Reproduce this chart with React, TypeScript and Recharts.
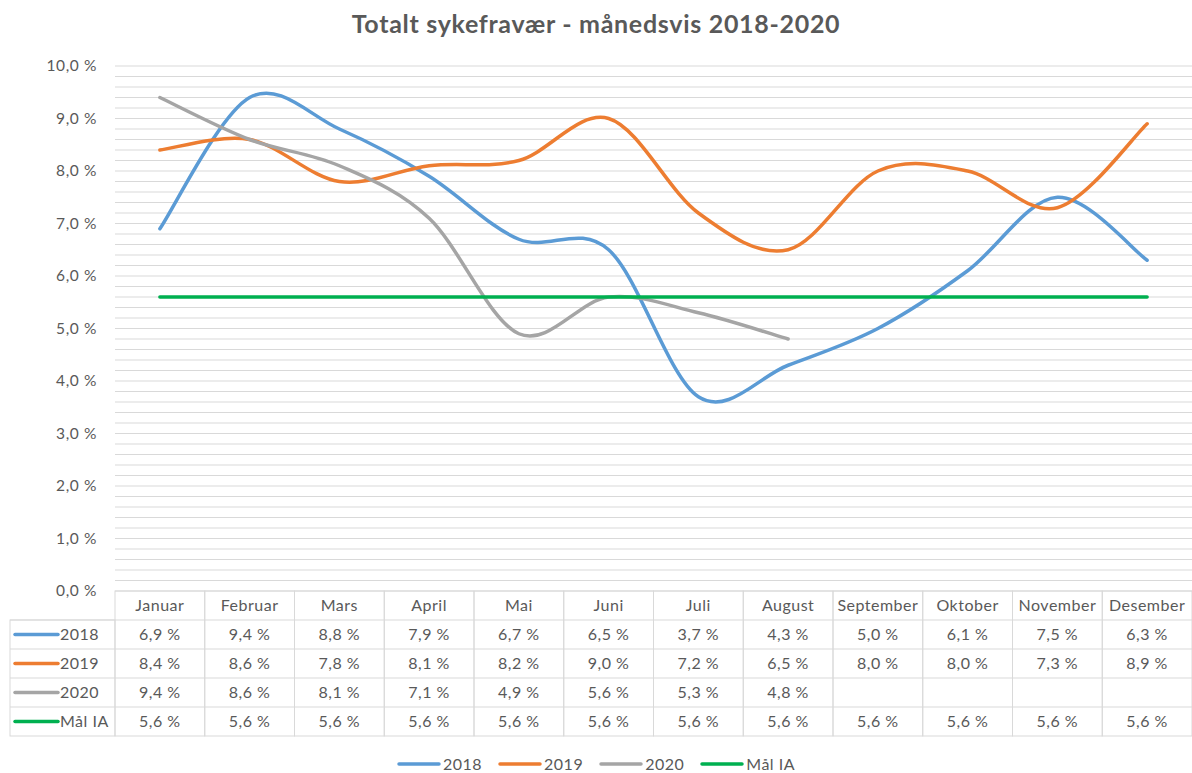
import React from "react";
import {
  CartesianGrid,
  ComposedChart,
  Legend,
  Line,
  XAxis,
  YAxis,
} from "recharts";

const months = [
  "Januar",
  "Februar",
  "Mars",
  "April",
  "Mai",
  "Juni",
  "Juli",
  "August",
  "September",
  "Oktober",
  "November",
  "Desember",
];
const values2018 = [6.9, 9.4, 8.8, 7.9, 6.7, 6.5, 3.7, 4.3, 5.0, 6.1, 7.5, 6.3];
const values2019 = [8.4, 8.6, 7.8, 8.1, 8.2, 9.0, 7.2, 6.5, 8.0, 8.0, 7.3, 8.9];
const values2020 = [9.4, 8.6, 8.1, 7.1, 4.9, 5.6, 5.3, 4.8, null, null, null, null];
const valuesMaal = [5.6, 5.6, 5.6, 5.6, 5.6, 5.6, 5.6, 5.6, 5.6, 5.6, 5.6, 5.6];

const seriesNames = ["2018", "2019", "2020", "Mål IA"];
const seriesColors = ["#5B9BD5", "#ED7D31", "#A5A5A5", "#00B050"];
const seriesValues = [values2018, values2019, values2020, valuesMaal];

// minor steps of 0,2 %, only whole percents get a label
const yTicks = Array.from({ length: 51 }, (_, i) => Math.round(i * 2) / 10);

const data = months.map((month, i) => ({
  month,
  s0: values2018[i],
  s1: values2019[i],
  s2: values2020[i],
  s3: valuesMaal[i],
}));

const FONT = "Lato, 'Open Sans', sans-serif";
const TEXT = "#595959";
const BORDER = "#D9D9D9";
const COL_W = 1077 / 12;
const ROW_H = 29;

const pct = (v: number) => v.toFixed(1).replace(".", ",") + " %";

// Excel-style smoothing (Catmull-Rom as cubic bezier)
const excelSmooth = (context: any) => {
  let pts: number[][] = [];
  return {
    areaStart() {},
    areaEnd() {},
    lineStart() {
      pts = [];
    },
    point(x: number, y: number) {
      pts.push([+x, +y]);
    },
    lineEnd() {
      const n = pts.length;
      if (!n) return;
      context.moveTo(pts[0][0], pts[0][1]);
      for (let i = 0; i < n - 1; i++) {
        const p0 = pts[Math.max(i - 1, 0)];
        const p1 = pts[i];
        const p2 = pts[i + 1];
        const p3 = pts[Math.min(i + 2, n - 1)];
        context.bezierCurveTo(
          p1[0] + (p2[0] - p0[0]) / 6,
          p1[1] + (p2[1] - p0[1]) / 6,
          p2[0] - (p3[0] - p1[0]) / 6,
          p2[1] - (p3[1] - p1[1]) / 6,
          p2[0],
          p2[1]
        );
      }
    },
  };
};

function YTick(props: any) {
  const { x, y, payload } = props;
  const v = payload.value;
  if (Math.abs(v - Math.round(v)) > 1e-6) return null;
  return (
    <text
      x={x}
      y={y}
      dy="0.35em"
      textAnchor="end"
      fill={TEXT}
      fontSize={15.5}
      letterSpacing={0.6}
      fontFamily={FONT}
    >
      {pct(v)}
    </text>
  );
}

function TableTick(props: any) {
  const { x, payload } = props;
  const top = 591;
  const i = months.indexOf(payload.value);
  const left = x - COL_W / 2;
  return (
    <g fontFamily={FONT} fontSize={16} letterSpacing={0.5} fill={TEXT}>
      <rect x={left} y={top} width={COL_W} height={ROW_H * 5} fill="none" stroke={BORDER} />
      <text x={x} y={top + ROW_H / 2} dy="0.35em" textAnchor="middle">
        {payload.value}
      </text>
      {seriesValues.map((vals, r) => {
        const cy = top + ROW_H * (r + 1);
        const v = vals[i];
        return (
          <g key={r}>
            <line x1={left} x2={left + COL_W} y1={cy} y2={cy} stroke={BORDER} />
            {v != null && (
              <text x={x} y={cy + ROW_H / 2} dy="0.35em" textAnchor="middle">
                {pct(v)}
              </text>
            )}
          </g>
        );
      })}
      {i === 0 && (
        <g>
          <rect x={10} y={top + ROW_H} width={left - 10} height={ROW_H * 4} fill="none" stroke={BORDER} />
          {seriesNames.map((name, r) => {
            const cy = top + ROW_H * (r + 1);
            return (
              <g key={name}>
                <line x1={10} x2={left} y1={cy} y2={cy} stroke={BORDER} />
                <line
                  x1={15}
                  x2={58}
                  y1={cy + ROW_H / 2}
                  y2={cy + ROW_H / 2}
                  stroke={seriesColors[r]}
                  strokeWidth={3.5}
                  strokeLinecap="round"
                />
                <text x={60} y={cy + ROW_H / 2} dy="0.35em">
                  {name}
                </text>
              </g>
            );
          })}
        </g>
      )}
    </g>
  );
}

function LegendContent() {
  return (
    <div
      style={{
        display: "flex",
        justifyContent: "center",
        gap: 16,
        paddingTop: 17,
        fontFamily: FONT,
        fontSize: 16,
        letterSpacing: 0.5,
        color: TEXT,
      }}
    >
      {seriesNames.map((name, r) => (
        <div key={name} style={{ display: "flex", alignItems: "center" }}>
          <svg width={44} height={6}>
            <line x1={2} x2={42} y1={3} y2={3} stroke={seriesColors[r]} strokeWidth={3.5} strokeLinecap="round" />
          </svg>
          <span style={{ marginLeft: 2 }}>{name}</span>
        </div>
      ))}
    </div>
  );
}

export default function App() {
  return (
    <div style={{ position: "absolute", left: 0, top: 0, width: 1192, height: 773, background: "#fff" }}>
      <div
        style={{
          position: "absolute",
          top: 8,
          left: 0,
          width: 1192,
          textAlign: "center",
          fontFamily: FONT,
          fontWeight: 700,
          fontSize: 25,
          letterSpacing: 0.7,
          color: TEXT,
        }}
      >
        Totalt sykefravær - månedsvis 2018-2020
      </div>
      <ComposedChart
        width={1192}
        height={773}
        data={data}
        margin={{ top: 66, right: 0, left: 0, bottom: 0 }}
      >
        <CartesianGrid vertical={false} stroke={BORDER} />
        <XAxis
          dataKey="month"
          scale="band"
          height={146}
          interval={0}
          tickSize={0}
          tickMargin={0}
          axisLine={false}
          tickLine={false}
          tick={<TableTick />}
        />
        <YAxis
          width={115}
          domain={[0, 10]}
          ticks={yTicks}
          interval={0}
          tickSize={0}
          tickMargin={18}
          axisLine={false}
          tickLine={false}
          tick={<YTick />}
        />
        <Legend verticalAlign="bottom" height={36} content={<LegendContent />} />
        {seriesNames.map((name, r) => (
          <Line
            key={name}
            dataKey={`s${r}`}
            name={name}
            type={excelSmooth as any}
            stroke={seriesColors[r]}
            strokeWidth={3.5}
            strokeLinecap="round"
            dot={false}
            activeDot={false}
            isAnimationActive={false}
          />
        ))}
      </ComposedChart>
    </div>
  );
}
